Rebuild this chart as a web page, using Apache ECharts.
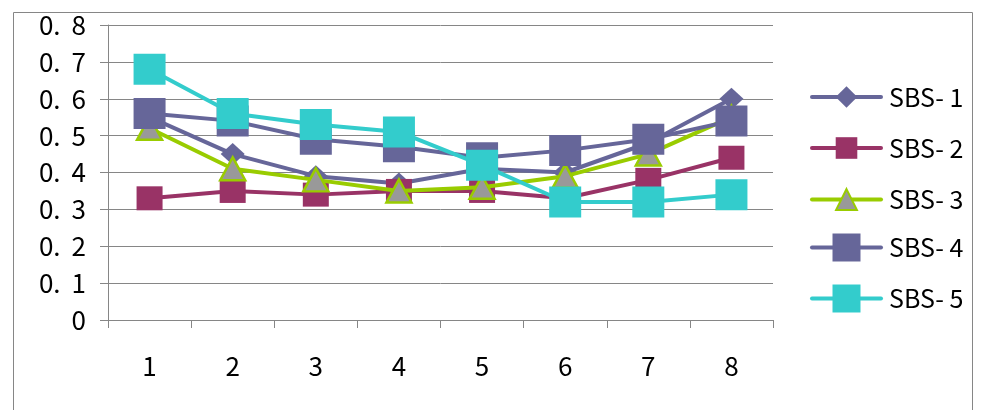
<!DOCTYPE html>
<html>
<head>
<meta charset="utf-8">
<script src="https://cdn.jsdelivr.net/npm/echarts@6/dist/echarts.min.js"></script>
<style>
html,body{margin:0;padding:0;background:#fff;}
#chart{width:985px;height:410px;}
</style>
</head>
<body>
<div id="chart"></div>
<script>
// ---- data ----
var categories = ['1', '2', '3', '4', '5', '6', '7', '8'];
var seriesNames = ['SBS-1', 'SBS-2', 'SBS-3', 'SBS-4', 'SBS-5'];
var sbs1 = [0.55, 0.45, 0.39, 0.37, 0.41, 0.40, 0.48, 0.60];
var sbs2 = [0.33, 0.35, 0.34, 0.35, 0.35, 0.33, 0.38, 0.44];
var sbs3 = [0.52, 0.41, 0.38, 0.35, 0.36, 0.39, 0.45, 0.55];
var sbs4 = [0.56, 0.54, 0.49, 0.47, 0.44, 0.46, 0.49, 0.54];
var sbs5 = [0.68, 0.56, 0.53, 0.51, 0.42, 0.32, 0.32, 0.34];
var yTicks = [0, 0.1, 0.2, 0.3, 0.4, 0.5, 0.6, 0.7, 0.8];

// ---- styling ----
var FONT = "'Noto Sans CJK KR', 'Noto Sans', sans-serif";
var FS = 25;
var GRAY = '#868686';
var styles = [
  {color: '#666699', symbol: 'diamond', size: [24, 22], itemH: 27, cy: 98},
  {color: '#993366', symbol: 'rect', size: [26, 24], itemH: 27, cy: 149},
  {color: '#99CC00', symbol: 'triangle', size: [25, 23], itemH: 26, cy: 200, fill: '#999999'},
  {color: '#666699', symbol: 'rect', size: [32, 31], itemH: 35, cy: 251},
  {color: '#33CCCC', symbol: 'rect', size: [32, 31], itemH: 35, cy: 302}
];
var values = [sbs1, sbs2, sbs3, sbs4, sbs5];

function label(name) { return name.replace('-', '- '); }

var series = seriesNames.map(function (name, i) {
  var s = styles[i];
  return {
    name: name,
    type: 'line',
    data: values[i],
    z: 2 + i,
    symbol: s.symbol,
    symbolSize: s.size,
    showAllSymbol: true,
    lineStyle: {color: s.color, width: 4},
    itemStyle: s.fill ? {color: s.fill, borderColor: s.color, borderWidth: 2.5, opacity: 1}
                      : {color: s.color, borderWidth: 0, opacity: 1},
    emphasis: {disabled: true},
    animation: false
  };
});

var legends = seriesNames.map(function (name, i) {
  var s = styles[i];
  return {
    data: [name],
    left: 810,
    top: s.cy - s.itemH / 2,
    padding: 0,
    itemWidth: 69,
    itemHeight: s.itemH,
    itemGap: 0,
    selectedMode: false,
    formatter: label,
    lineStyle: {width: 4, cap: 'round', color: s.color},
    textStyle: {fontFamily: FONT, fontSize: FS, color: '#000', padding: [0, 0, 0, 3]}
  };
});

var chart = echarts.init(document.getElementById('chart'));
chart.setOption({
  backgroundColor: '#fff',
  animation: false,
  grid: {left: 108, right: 212, top: 25, bottom: 90},
  xAxis: {
    type: 'category',
    data: categories,
    boundaryGap: true,
    axisLine: {lineStyle: {color: GRAY, width: 1}},
    axisTick: {show: true, length: 8, lineStyle: {color: GRAY}},
    axisLabel: {fontFamily: FONT, fontSize: 26, color: '#000', margin: 33}
  },
  yAxis: {
    type: 'value',
    min: yTicks[0],
    max: yTicks[yTicks.length - 1],
    interval: 0.1,
    axisLine: {show: true, lineStyle: {color: GRAY, width: 1}},
    axisTick: {show: true, length: 8, lineStyle: {color: GRAY}},
    splitLine: {lineStyle: {color: GRAY, width: 1}},
    axisLabel: {
      fontFamily: FONT, fontSize: 26, color: '#000', margin: 22,
      formatter: function (v) { return v === 0 ? '0' : v.toFixed(1).replace('.', '.\u2009 '); }
    }
  },
  legend: legends,
  graphic: [{
    type: 'rect',
    shape: {x: 13.5, y: 12.5, width: 959, height: 420},
    style: {fill: 'none', stroke: GRAY, lineWidth: 1},
    silent: true
  }],
  series: series
});
</script>
</body>
</html>
